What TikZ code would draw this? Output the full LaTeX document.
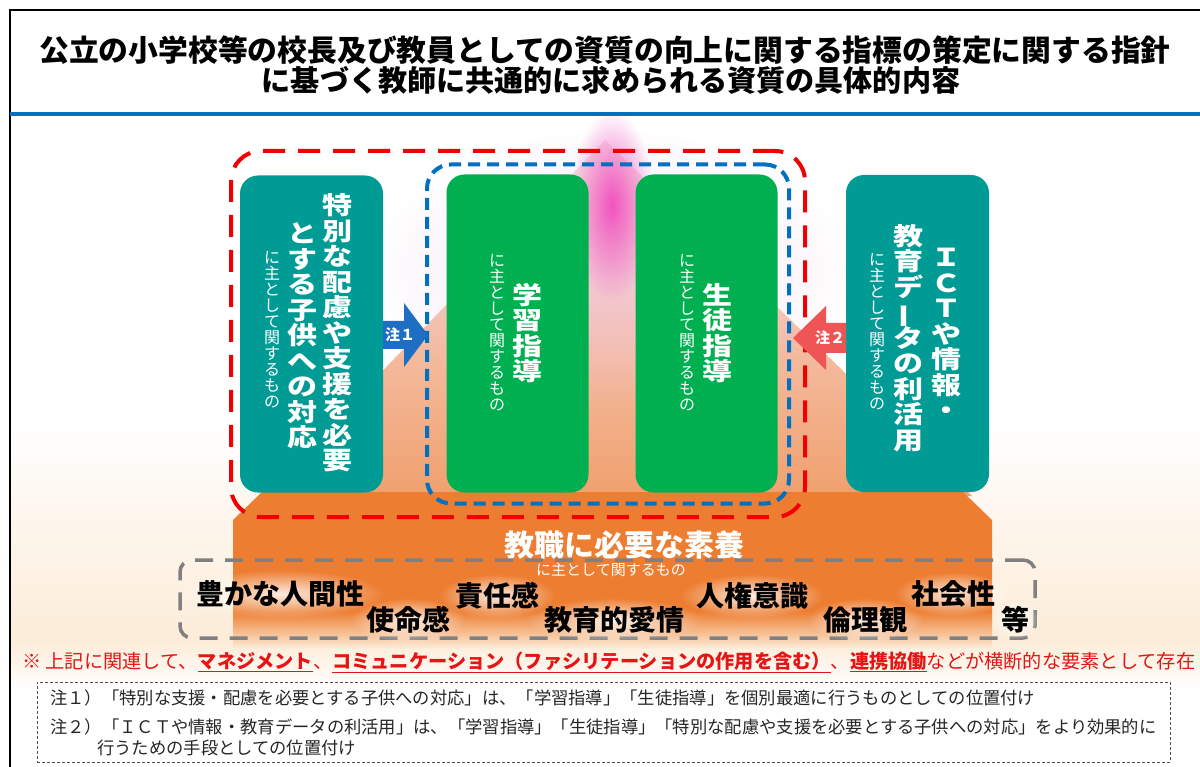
\documentclass[tikz,border=0pt]{standalone}
\usepackage{fontspec}
\setmainfont{Noto Sans CJK JP}
\usepackage{graphicx}
\usetikzlibrary{fadings}
\tikzfading[name=glowfade, inner color=transparent!0, outer color=transparent!100]
\definecolor{tealc}{RGB}{0,155,149}
\definecolor{greenc}{RGB}{0,176,80}
\definecolor{orangec}{RGB}{237,125,49}
\definecolor{blued}{RGB}{0,112,192}
\definecolor{redd}{RGB}{240,0,0}
\definecolor{bluearr}{RGB}{30,110,195}
\definecolor{redarr}{RGB}{240,85,85}
\definecolor{redtxt}{RGB}{230,20,20}
\definecolor{cream}{RGB}{252,236,216}
\definecolor{pyrtop}{RGB}{250,226,230}
\definecolor{pyrmid}{RGB}{246,206,182}
\definecolor{pyrbot}{RGB}{240,160,110}
\definecolor{pinkg}{RGB}{240,70,190}
\definecolor{hazec}{RGB}{240,200,235}
\definecolor{grayd}{RGB}{128,128,128}
\definecolor{notetxt}{RGB}{38,38,38}
\newcommand\fs[1]{\fontsize{#1}{#1}\selectfont}
\newcommand\vbar{\rotatebox[origin=c]{90}{ー}}
\makeatletter
\def\vt@end{\vt@end}
\def\vt@loop#1{\ifx#1\vt@end\else\hbox to \vt@w{\hss\vt@f{#1}\hss}\expandafter\vt@loop\fi}
\newcommand\vstack[5]{\vbox{\fontsize{#1}{#2}\selectfont\baselineskip=#2\lineskiplimit=-100pt\relax
 \def\vt@w{#3}\def\vt@f##1{\scalebox{1}[#4]{##1}}\vt@loop#5\vt@end}}
\makeatother
\newcommand\bigv[1]{{\bfseries\vstack{30pt}{25.5pt}{34pt}{0.82}{#1}}}
\newcommand\smallv[1]{\vstack{16pt}{16pt}{18pt}{1}{#1}}
\tikzset{
 tealbox/.style={fill=tealc, rounded corners=18pt, minimum width=143pt, minimum height=317pt, inner sep=0pt},
 greenbox/.style={fill=greenc, rounded corners=18pt, minimum width=142pt, minimum height=318pt, inner sep=0pt},
 vtxt/.style={text=white, inner sep=0pt},
 word/.style={font=\bfseries\fs{28}, inner sep=0pt, text=black},
 glow/.style={fill=white, opacity=0.85, path fading=glowfade},
 notetext/.style={font=\fs{17.3}, text=notetxt, inner sep=0pt, anchor=west},
 reddash/.style={draw=redd, line width=4pt, dash pattern=on 22pt off 13pt, rounded corners=30pt},
 bluedash/.style={draw=blued, line width=4pt, dash pattern=on 12pt off 7pt, rounded corners=24pt},
 graydash/.style={draw=grayd, line width=3.5pt, dash pattern=on 18pt off 12pt, rounded corners=12pt},
}
\begin{document}
\begin{tikzpicture}[x=1pt,y=-1pt]
\useasboundingbox (0,0) rectangle (1200,767);
\fill[white] (0,0) rectangle (1200,767);
% background glow
\shade[top color=white, bottom color=cream] (10,420) rectangle (1200,640);
\shade[top color=cream, bottom color=white] (10,640) rectangle (1200,690);
% pyramid
\shade[top color=pyrtop, middle color=pyrmid, bottom color=pyrbot] (605,140) -- (972,496) -- (262,496) -- cycle;
\fill[hazec, opacity=0.6, path fading=glowfade] (612,270) ellipse (240 and 140);
\fill[pinkg, opacity=0.9, path fading=glowfade] (612,205) ellipse (42 and 95);
% orange base
\fill[orangec] (233,520) -- (262,492) -- (963,492) -- (992,520) -- (992,612) -- (233,612) -- cycle;
\shade[top color=orangec, bottom color=cream] (233,611) rectangle (992,648);
% frame
\draw[black, line width=1.5pt] (10,767) -- (10,10) -- (1200,10);
\draw[blued, line width=4pt] (10,114) -- (1200,114);
% title
\node[font=\bfseries\fs{29.8}, inner sep=0pt] (title1) at (605,50) {公立の小学校等の校長及び教員としての資質の向上に関する指標の策定に関する指針};
\node[font=\bfseries\fs{29.1}, inner sep=0pt] (title2) at (611,80) {に基づく教師に共通的に求められる資質の具体的内容};
% dashed groups
\node[reddash, minimum width=574pt, minimum height=366pt] (redgrp) at (518,334) {};
\node[bluedash, minimum width=362pt, minimum height=339pt] (bluegrp) at (608,334) {};
% boxes
\node[tealbox] (lbox) at (311.5,334) {};
\node[greenbox] (gbox1) at (517.5,333.5) {};
\node[greenbox] (gbox2) at (706.5,333.5) {};
\node[tealbox] (rbox) at (917.5,333.5) {};
% vertical texts
\node[vtxt] (l1) at (337,333) {\bigv{特別な配慮や支援を必要}};
\node[vtxt] (l2) at (302,336) {\bigv{とする子供への対応}};
\node[vtxt] (l3) at (272,330) {\smallv{に主として関するもの}};
\node[vtxt] (g1a) at (527,333) {\bigv{学習指導}};
\node[vtxt] (g1b) at (497,333) {\smallv{に主として関するもの}};
\node[vtxt] (g2a) at (717,333) {\bigv{生徒指導}};
\node[vtxt] (g2b) at (687,333) {\smallv{に主として関するもの}};
\node[vtxt] (r1) at (946,334) {\bigv{ＩＣＴや情報・}};
\node[vtxt] (r2) at (908,338) {\bigv{教育デ\vbar タの利活用}};
\node[vtxt] (r3) at (877,332) {\smallv{に主として関するもの}};
% arrows
\coordinate (a1tip) at (428,335);
\fill[bluearr] (lbox.east |- 0,321) -- (404,321) -- (404,303) -- (a1tip) -- (404,367) -- (404,349) -- (lbox.east |- 0,349) -- cycle;
\node[font=\bfseries\fs{15}, text=white, inner sep=0pt] (n1) at (400,335) {注１};
\coordinate (a2tip) at (793,338);
\fill[redarr] (rbox.west |- 0,323) -- (826,323) -- (826,306) -- (a2tip) -- (826,370) -- (826,353) -- (rbox.west |- 0,353) -- cycle;
\node[font=\bfseries\fs{15}, text=white, inner sep=0pt] (n2) at (830,338) {注２};
% base texts
\node[font=\bfseries\fs{30}, text=white, inner sep=0pt] (base) at (624,545) {教職に必要な素養};
\node[font=\fs{15}, text=white, inner sep=0pt] (basesub) at (611,570) {に主として関するもの};
\node[graydash, minimum width=855pt, minimum height=78pt] (graygrp) at (607.5,599) {};
% soft white glows behind words
\fill[glow] (280,594) ellipse (105 and 24);
\fill[glow] (408,620) ellipse (58 and 22);
\fill[glow] (497,596) ellipse (58 and 22);
\fill[glow] (614,620) ellipse (88 and 22);
\fill[glow] (752,596) ellipse (72 and 22);
\fill[glow] (865,620) ellipse (58 and 22);
\fill[glow] (953,594) ellipse (58 and 22);
\fill[glow] (1015,620) ellipse (25 and 20);
\node[word] (w1) at (280,594) {豊かな人間性};
\node[word] (w2) at (408,620) {使命感};
\node[word] (w3) at (497,596) {責任感};
\node[word] (w4) at (614,620) {教育的愛情};
\node[word] (w5) at (752,596) {人権意識};
\node[word] (w6) at (865,620) {倫理観};
\node[word] (w7) at (953,594) {社会性};
\node[word] (w8) at (1015,620) {等};
% red remark
\node[text=redtxt, inner sep=0pt, anchor=west] (remark) at (22,662) {\resizebox{1173pt}{!}{\fs{19.4}※ 上記に関連して、\textbf{\underline{マネジメント}}、\textbf{\underline{コミュニケーション（ファシリテーションの作用を含む）}}、\textbf{\underline{連携協働}}などが横断的な要素として存在}};
% notes
\node[draw=notetxt!80, line width=1pt, dash pattern=on 3pt off 2pt, minimum width=1133pt, minimum height=80pt, inner sep=0pt] (notes) at (603.5,722) {};
\node[notetext] (note1) at (50,698) {注１）「特別な支援・配慮を必要とする子供への対応」は、「学習指導」「生徒指導」を個別最適に行うものとしての位置付け};
\node[notetext] (note2) at (50,727) {注２）「ＩＣＴや情報・教育データの利活用」は、「学習指導」「生徒指導」「特別な配慮や支援を必要とする子供への対応」をより効果的に};
\node[notetext] (note3) at (97,748) {行うための手段としての位置付け};
\end{tikzpicture}
\end{document}
